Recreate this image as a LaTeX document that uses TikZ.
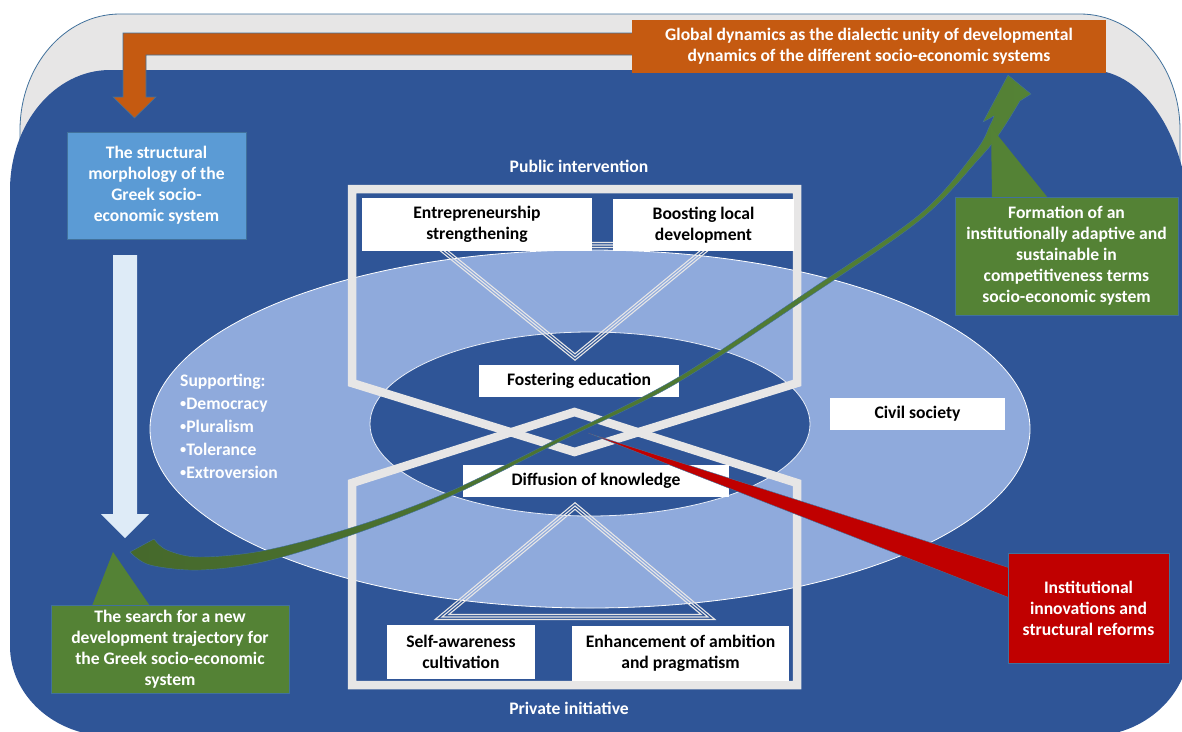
\documentclass[tikz,border=0pt]{standalone}
\usepackage{fontspec}
\setmainfont{Carlito}
\definecolor{bgblue}{HTML}{2F5597}
\definecolor{ellblue}{HTML}{8FAADC}
\definecolor{framegray}{HTML}{E7E6E6}
\definecolor{edgeblue}{HTML}{41719C}
\definecolor{orng}{HTML}{C55A11}
\definecolor{ltblue}{HTML}{5B9BD5}
\definecolor{grn}{HTML}{548235}
\definecolor{dkgrn}{HTML}{46692C}
\definecolor{steel}{HTML}{50799A}
\definecolor{redc}{HTML}{C00000}
\definecolor{arrowpale}{HTML}{DEEBF7}
\newcommand{\smallbul}{\raisebox{0.12em}{\scalebox{0.7}{\textbullet}}}
\begin{document}
\begin{tikzpicture}[x=1pt,y=-1pt,
  every node/.style={font=\fontsize{17.6}{21}\selectfont\bfseries, inner sep=0pt},
  whitebox/.style={fill=white, text=black, align=center},
  colbox/.style={text=white, align=center, draw=edgeblue, line width=0.6pt},
  lbl/.style={text=white, align=center},
  frameline/.style={draw=framegray, line width=8.5pt, line join=miter},
  tri/.style={draw=framegray, line width=1.1pt, line join=miter}
]
\useasboundingbox (0,0) rectangle (1182,731);
\clip (0,0) rectangle (1182,731);

% grey back shape (only its top shows)
\filldraw[fill=framegray, draw=edgeblue, line width=0.8pt]
  (20,330) -- (20,130) arc[start angle=180, end angle=270, x radius=100, y radius=116]
  -- (1080,14) arc[start angle=270, end angle=360, x radius=100, y radius=116] -- (1180,330) -- cycle;

% blue main shape
\fill[bgblue]
  (10,646) -- (10,190) arc[start angle=180, end angle=270, x radius=100, y radius=120]
  -- (1090,70) arc[start angle=270, end angle=360, x radius=100, y radius=160]
  -- (1190,642) arc[start angle=0, end angle=90, x radius=100, y radius=94]
  -- (110,736) arc[start angle=90, end angle=180, x radius=100, y radius=90] -- cycle;

% ellipses
\filldraw[fill=ellblue, draw=white, line width=0.8pt] (590,429) ellipse[x radius=440, y radius=179];
\filldraw[fill=bgblue, draw=white!80!ellblue, line width=0.8pt] (590,424) ellipse[x radius=220, y radius=92];

% hourglass frame
\draw[frameline] (352,189) -- (797,189) -- (797,383) -- (574.5,452) -- (352,383) -- cycle;
\draw[frameline] (352,483) -- (574.5,412) -- (797,483) -- (797,685) -- (352,685) -- cycle;

% triple-line triangles
\draw[tri] (430.0,242.5) -- (717.9,242.5) -- (575.0,360.2) -- cycle;
\draw[tri] (437,245) -- (711,245) -- (575,357) -- cycle;
\draw[tri] (444.0,247.5) -- (704.1,247.5) -- (575.0,353.8) -- cycle;
\draw[tri] (575,502.7) -- (714.9,619.5) -- (435.1,619.5) -- cycle;
\draw[tri] (575,506) -- (708,617) -- (442,617) -- cycle;
\draw[tri] (575,509.3) -- (701.1,614.5) -- (448.9,614.5) -- cycle;

% white boxes
\node[whitebox, minimum width=230pt, minimum height=53pt] (entre) at (477,224.5) {Entrepreneurship\\strengthening};
\node[whitebox, minimum width=181pt, minimum height=52pt] (boost) at (703.5,225) {Boosting local\\development};
\node[whitebox, minimum width=200pt, minimum height=32pt] (foster) at (579,381) {Fostering education};
\node[whitebox, minimum width=266pt, minimum height=32pt] (diff) at (596,481) {Diffusion of knowledge};
\node[whitebox, minimum width=175pt, minimum height=32pt] (civil) at (917.5,414) {Civil society};
\node[whitebox, minimum width=148pt, minimum height=54pt] (self) at (461,652) {Self-awareness\\cultivation};
\node[whitebox, minimum width=217pt, minimum height=55pt] (enh) at (680.5,653.5) {Enhancement of ambition\\and pragmatism};

% labels
\node[lbl] (pub) at (579,166) {Public intervention};
\node[lbl] (priv) at (569,708) {Private initiative};
\node[text=white, align=left, anchor=west, font=\fontsize{17.6}{23}\selectfont\bfseries] (supp) at (180,426.5)
  {Supporting:\\\smallbul Democracy\\\smallbul Pluralism\\\smallbul Tolerance\\\smallbul Extroversion};

% structural morphology box and down arrow
\node[colbox, fill=ltblue, minimum width=179pt, minimum height=107pt] (struct) at (156.5,185.5)
  {The structural\\morphology of the\\Greek socio-\\economic system};
\fill[arrowpale] (113,255) -- (137,255) -- (137,514) -- (149,514) -- (125,538) -- (101,514) -- (113,514) -- cycle;

% orange bent arrow and box
\filldraw[fill=orng, draw=edgeblue, line width=0.6pt]
  (640,33) -- (123,33) -- (123,97) -- (113,97) -- (134.5,118) -- (156,97) -- (146,97) -- (146,55) -- (640,55) -- cycle;
\node[colbox, fill=orng, draw=none, minimum width=474pt, minimum height=53pt] (glob) at (869,46.5)
  {Global dynamics as the dialectic unity of developmental\\dynamics of the different socio-economic systems};

% green curved arrow
\shadedraw[left color=dkgrn, middle color=steel, right color=grn, draw=edgeblue, line width=0.4pt]
  plot[smooth, tension=0.55] coordinates {(154,539) (167,550) (200,557) (267,550) (360,525) (453,490) (563,436) (677,378) (810,290) (920,214) (975,152) (990,125) (994,116)}
  -- (983,122) -- (1008,75) -- (1031,94) -- (1020,101)
  -- plot[smooth, tension=0.55] coordinates {(1020,101) (1000,133) (978,160) (920,220) (810,296) (677,383) (563,440) (453,495) (360,532) (267,561) (200,570) (150,565) (130,552)}
  -- cycle;

% green boxes with callouts
\fill[grn] (992,198) -- (991,127) -- (1048,198) -- cycle;
\node[colbox, fill=grn, minimum width=223pt, minimum height=118pt] (form) at (1066.5,256)
  {Formation of an\\institutionally adaptive and\\sustainable in\\competitiveness terms\\socio-economic system};
\fill[grn] (92,606) -- (113,552) -- (150,606) -- cycle;
\node[colbox, fill=grn, minimum width=238pt, minimum height=88pt] (search) at (170,649)
  {The search for a new\\development trajectory for\\the Greek socio-economic\\system};

% red wedge and box
\filldraw[fill=redc, draw=edgeblue, line width=0.4pt] (588,433) -- (1010,568) -- (1010,598) -- cycle;
\node[colbox, fill=redc, minimum width=161pt, minimum height=110pt] (inst) at (1088.5,608)
  {Institutional\\innovations and\\structural reforms};
\end{tikzpicture}
\end{document}
